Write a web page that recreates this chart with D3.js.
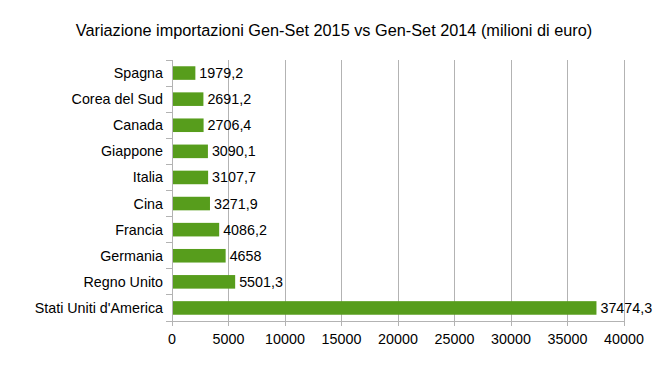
<!DOCTYPE html>
<html>
<head>
<meta charset="utf-8">
<script src="https://cdn.jsdelivr.net/npm/d3@7"></script>
<style>
  body { margin: 0; background: #fff; }
  svg { display: block; font-family: "Liberation Sans", Arial, sans-serif; }
</style>
</head>
<body>
<svg width="664" height="369"></svg>
<script>
// data
var countries = ["Spagna", "Corea del Sud", "Canada", "Giappone", "Italia", "Cina",
                 "Francia", "Germania", "Regno Unito", "Stati Uniti d'America"];
var values = [1979.2, 2691.2, 2706.4, 3090.1, 3107.7, 3271.9, 4086.2, 4658, 5501.3, 37474.3];
var xTicks = [0, 5000, 10000, 15000, 20000, 25000, 30000, 35000, 40000];

var width = 664, height = 369;
var margin = {top: 60, right: 40, bottom: 48, left: 172};

var svg = d3.select("svg");

var x = d3.scaleLinear()
    .domain([0, 40000])
    .range([margin.left, width - margin.right]);

var y = d3.scaleBand()
    .domain(countries)
    .range([margin.top, height - margin.bottom])
    .paddingInner(0.48)
    .paddingOuter(0.24);

var fmt = v => String(v).replace(".", ",");

// title
svg.append("text")
    .attr("x", 334)
    .attr("y", 36)
    .attr("text-anchor", "middle")
    .attr("font-size", 16.3)
    .attr("fill", "#000")
    .text("Variazione importazioni Gen-Set 2015 vs Gen-Set 2014 (milioni di euro)");

// vertical gridlines
svg.append("g")
    .selectAll("line")
    .data(xTicks)
    .join("line")
    .attr("x1", d => x(d))
    .attr("x2", d => x(d))
    .attr("y1", margin.top)
    .attr("y2", height - margin.bottom + 5)
    .attr("stroke", "#b3b3b3")
    .attr("stroke-width", 1)
    .attr("shape-rendering", "crispEdges");

// horizontal axis line
svg.append("line")
    .attr("x1", margin.left)
    .attr("x2", width - margin.right)
    .attr("y1", height - margin.bottom)
    .attr("y2", height - margin.bottom)
    .attr("stroke", "#b3b3b3")
    .attr("shape-rendering", "crispEdges");

// x tick labels
svg.append("g")
    .selectAll("text")
    .data(xTicks)
    .join("text")
    .attr("x", d => x(d))
    .attr("y", height - margin.bottom + 23)
    .attr("text-anchor", "middle")
    .attr("font-size", 14.3)
    .text(d => d);

// category boundaries on left axis
var bounds = countries.map((c, i) => margin.top + (height - margin.bottom - margin.top) * i / countries.length);
bounds.push(height - margin.bottom);
svg.append("g")
    .selectAll("line")
    .data(bounds)
    .join("line")
    .attr("x1", margin.left - 6)
    .attr("x2", margin.left)
    .attr("y1", d => d)
    .attr("y2", d => d)
    .attr("stroke", "#b3b3b3")
    .attr("shape-rendering", "crispEdges");

svg.append("line")
    .attr("x1", margin.left)
    .attr("x2", margin.left)
    .attr("y1", margin.top)
    .attr("y2", height - margin.bottom)
    .attr("stroke", "#b3b3b3")
    .attr("shape-rendering", "crispEdges");

// category labels
svg.append("g")
    .selectAll("text")
    .data(countries)
    .join("text")
    .attr("x", margin.left - 9)
    .attr("y", d => y(d) + y.bandwidth() / 2)
    .attr("dy", "0.35em")
    .attr("text-anchor", "end")
    .attr("font-size", 14.3)
    .text(d => d);

// bars
svg.append("g")
    .selectAll("rect")
    .data(values)
    .join("rect")
    .attr("x", x(0) + 1)
    .attr("y", (d, i) => y(countries[i]))
    .attr("width", d => x(d) - x(0))
    .attr("height", y.bandwidth())
    .attr("fill", "#579d1c");

// value labels
svg.append("g")
    .selectAll("text")
    .data(values)
    .join("text")
    .attr("x", d => x(d) + 5)
    .attr("y", (d, i) => y(countries[i]) + y.bandwidth() / 2)
    .attr("dy", "0.35em")
    .attr("font-size", 14.3)
    .text(d => fmt(d));
</script>
</body>
</html>
